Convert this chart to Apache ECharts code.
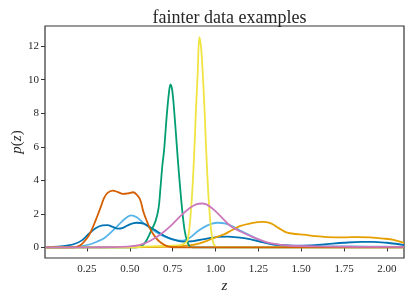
<!DOCTYPE html>
<html><head><meta charset="utf-8">
<script src="https://cdn.jsdelivr.net/npm/echarts@6/dist/echarts.min.js"></script>
<style>html,body{margin:0;padding:0;background:#fff}#c{width:415px;height:301px}</style>
</head><body><div id="c"></div>
<script>
const xTicks = [0.25, 0.5, 0.75, 1.0, 1.25, 1.5, 1.75, 2.0];
const yTicks = [0, 2, 4, 6, 8, 10, 12];

const zBlue = [0.01,0.08,0.14,0.18,0.22,0.26,0.30,0.34,0.37,0.40,0.43,0.46,0.50,0.54,0.58,0.62,0.66,0.70,0.75,0.81,0.87,0.95,1.02,1.07,1.13,1.20,1.28,1.36,1.45,1.55,1.65,1.75,1.85,1.92,2.00,2.05,2.10];
const pBlue = [0.02,0.05,0.12,0.22,0.42,0.8,1.15,1.32,1.33,1.22,1.12,1.17,1.38,1.47,1.42,1.2,0.95,0.7,0.48,0.35,0.38,0.53,0.63,0.65,0.6,0.49,0.3,0.16,0.11,0.12,0.2,0.28,0.33,0.33,0.28,0.22,0.14];

const zLight = [0.01,0.15,0.22,0.27,0.31,0.35,0.39,0.43,0.47,0.507,0.54,0.58,0.62,0.66,0.70,0.75,0.80,0.85,0.90,0.95,0.98,1.01,1.06,1.11,1.15,1.20,1.26,1.32,1.40,1.50,1.70,1.90,2.10];
const pLight = [0.0,0.02,0.08,0.19,0.35,0.55,0.9,1.3,1.7,1.91,1.8,1.45,1.15,0.88,0.66,0.48,0.4,0.58,1.0,1.3,1.42,1.47,1.42,1.2,0.98,0.72,0.42,0.2,0.1,0.08,0.06,0.05,0.03];

const zOrange = [0.01,0.5,0.7,0.8,0.85,0.89,0.95,1.0,1.05,1.1,1.146,1.2,1.27,1.32,1.37,1.418,1.47,1.515,1.58,1.65,1.75,1.83,1.9,1.98,2.04,2.1];
const pOrange = [0,0.01,0.04,0.08,0.12,0.19,0.39,0.6,0.78,1.05,1.28,1.42,1.52,1.45,1.15,0.88,0.8,0.76,0.68,0.62,0.6,0.62,0.6,0.53,0.45,0.27];

const zGreen = [0.01,0.5,0.56,0.59,0.62,0.65,0.668,0.678,0.69,0.70,0.715,0.728,0.737,0.747,0.76,0.776,0.79,0.805,0.82,0.835,0.85,0.87,1.0,2.1];
const pGreen = [0,0,0.05,0.3,0.9,1.57,2.36,3.45,4.9,5.8,7.8,9.2,9.72,9.4,8.0,5.8,4.0,2.3,1.0,0.35,0.05,0,0,0];

const zYellow = [0.01,0.5,0.58,0.66,0.74,0.80,0.82,0.836,0.846,0.856,0.866,0.876,0.886,0.896,0.906,0.916,0.926,0.936,0.946,0.956,0.966,0.976,0.986,1.0,1.02,2.1];
const pYellow = [0,0,0.05,0.08,0.1,0.15,0.25,0.4,1.0,2.1,3.6,5.7,8.2,10.4,12.54,11.9,10.3,8.2,5.7,3.6,2.0,0.9,0.3,0.05,0,0];

const zRed = [0.01,0.15,0.19,0.22,0.25,0.27,0.30,0.33,0.35,0.37,0.40,0.43,0.46,0.49,0.52,0.54,0.56,0.58,0.60,0.62,0.65,0.68,0.72,0.76,0.85,2.1];
const pRed = [0,0,0.04,0.2,0.55,0.88,1.6,2.4,2.95,3.25,3.39,3.3,3.19,3.22,3.29,3.15,2.86,2.1,1.55,1.08,0.6,0.29,0.06,0.01,0,0];

const zPink = [0.01,0.3,0.4,0.5,0.56,0.62,0.68,0.74,0.795,0.85,0.89,0.92,0.95,0.99,1.04,1.087,1.146,1.2,1.26,1.32,1.38,1.44,1.6,1.8,2.1];
const pPink = [0,0.01,0.02,0.06,0.15,0.4,0.78,1.3,1.87,2.35,2.58,2.62,2.55,2.25,1.75,1.28,0.95,0.7,0.45,0.25,0.15,0.1,0.06,0.04,0.03];

const serif = '"Liberation Serif", "DejaVu Serif", serif';
function pairs(z, p) { return z.map((v, i) => [v, p[i]]); }
function line(z, p, color) {
  return { type: 'line', data: pairs(z, p), smooth: 0.35, symbol: 'none',
    lineStyle: { color: color, width: 1.8 }, itemStyle: { color: color }, silent: true };
}

const chart = echarts.init(document.getElementById('c'), null, { renderer: 'canvas' });
chart.setOption({
  animation: false,
  backgroundColor: '#fff',
  title: { text: 'fainter data examples', left: 224.5, top: 4, textAlign: 'center',
    textStyle: { fontFamily: serif, fontWeight: 'normal', fontSize: 18, color: '#262626' } },
  grid: { left: 45, right: 11, top: 26, bottom: 43, show: true, borderColor: '#333', borderWidth: 1.2, backgroundColor: 'transparent' },
  xAxis: { type: 'value', min: 0.005, max: 2.1,
    axisLine: { show: false }, splitLine: { show: false },
    axisTick: { show: true, inside: false, length: 4, lineStyle: { color: '#333', width: 1 }, customValues: xTicks },
    axisLabel: { customValues: xTicks, margin: 6, fontFamily: serif, fontSize: 11, color: '#262626',
      formatter: v => v.toFixed(2) } },
  yAxis: { type: 'value', min: -0.63, max: 13.2,
    axisLine: { show: false }, splitLine: { show: false },
    axisTick: { show: true, inside: false, length: 4, lineStyle: { color: '#333', width: 1 }, customValues: yTicks },
    axisLabel: { customValues: yTicks, margin: 6, fontFamily: serif, fontSize: 11, color: '#262626',
      formatter: v => String(v) } },
  graphic: [
    { type: 'text', x: 224.5, y: 286, style: { text: 'z', font: 'italic 15px ' + serif, fill: '#262626', align: 'center', verticalAlign: 'middle' } },
    { type: 'text', x: 17, y: 142, rotation: Math.PI / 2,
      style: { text: '{i|p}{n|(}{i|z}{n|)}', align: 'center', verticalAlign: 'middle', fill: '#262626',
        rich: { i: { fontFamily: serif, fontStyle: 'italic', fontSize: 15, fill: '#262626' },
                n: { fontFamily: serif, fontSize: 15, fill: '#262626' } } } }
  ],
  series: [
    line(zLight, pLight, '#56B4E9'),
    line(zBlue, pBlue, '#0173B2'),
    line(zOrange, pOrange, '#E69F00'),
    line(zGreen, pGreen, '#029E73'),
    line(zYellow, pYellow, '#F0E442'),
    line(zRed, pRed, '#D55E00'),
    line(zPink, pPink, '#CC78BC')
  ]
});
</script></body></html>
